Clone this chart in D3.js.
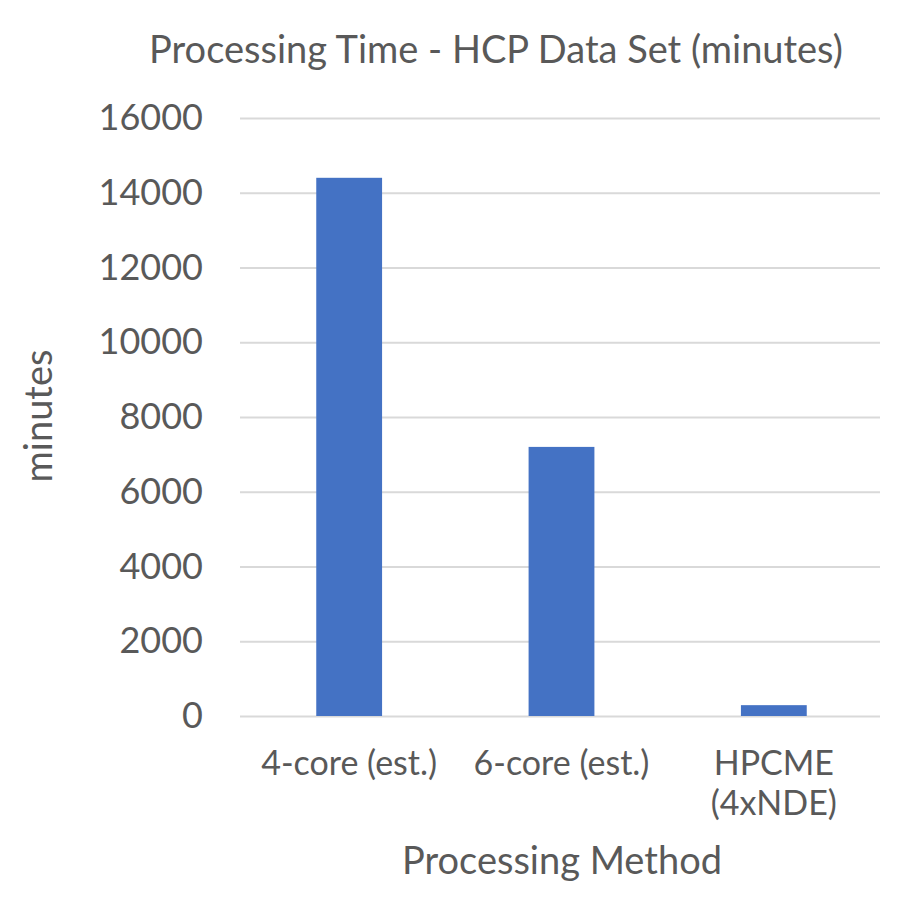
<!DOCTYPE html>
<html><head><meta charset="utf-8">
<script src="https://cdn.jsdelivr.net/npm/d3@7"></script>
<style>body{margin:0;background:#fff}svg text{font-family:Lato,"Open Sans",sans-serif;fill:#595959}</style>
</head><body><svg id="c" width="915" height="924"></svg>
<script>
const categories = [["4-core (est.)"], ["6-core (est.)"], ["HPCME", "(4xNDE)"]];
const values = [14400, 7200, 290];
const yTicks = [0, 2000, 4000, 6000, 8000, 10000, 12000, 14000, 16000];
const title = "Processing Time - HCP Data Set (minutes)";
const xTitle = "Processing Method";
const yTitle = "minutes";

const svg = d3.select("#c");
const L = 240, R = 880, T = 118, B = 716;
const x = d3.scaleBand().domain(d3.range(categories.length)).range([243, 880]).paddingInner(0.69).paddingOuter(0.345);
const y = d3.scaleLinear().domain([0, 16000]).range([B, T]);

const yAxis = d3.axisLeft(y).tickValues(yTicks).tickSize(-(R - L)).tickPadding(37).tickFormat(d3.format("d"));
const gy = svg.append("g").attr("transform", `translate(${L},0)`).call(yAxis);
gy.select(".domain").remove();
gy.selectAll(".tick line").attr("stroke", "#d9d9d9").attr("stroke-width", 2);
gy.selectAll(".tick text").attr("font-size", 36).style("font-family", "Lato, sans-serif").attr("fill", "#595959");

svg.append("g").selectAll("rect").data(values).join("rect")
  .attr("x", (d, i) => x(i)).attr("width", x.bandwidth())
  .attr("y", d => y(d)).attr("height", d => B - y(d))
  .attr("fill", "#4472c4");

const xl = svg.append("g");
categories.forEach((lines, i) => {
  const t = xl.append("text").attr("text-anchor", "middle").attr("font-size", 34)
    .attr("x", x(i) + x.bandwidth() / 2).attr("y", 775);
  lines.forEach((ln, j) => t.append("tspan").attr("x", x(i) + x.bandwidth() / 2).attr("dy", j ? 40 : 0).text(ln));
});

svg.append("text").attr("x", 496).attr("y", 63).attr("text-anchor", "middle").attr("font-size", 38).text(title);
svg.append("text").attr("x", 562).attr("y", 874).attr("text-anchor", "middle").attr("font-size", 38).text(xTitle);
svg.append("text").attr("transform", "translate(52,416) rotate(-90)").attr("text-anchor", "middle").attr("font-size", 38).text(yTitle);
</script></body></html>
